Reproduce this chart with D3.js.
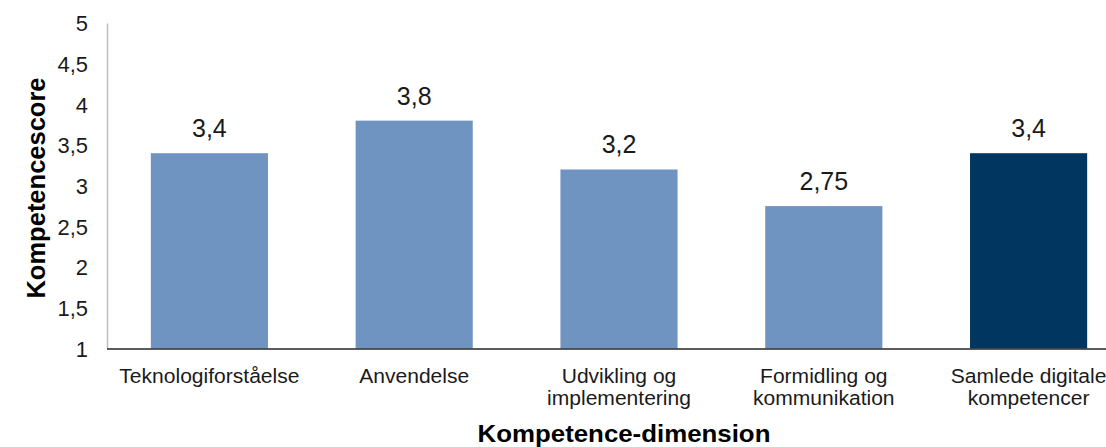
<!DOCTYPE html>
<html>
<head>
<meta charset="utf-8">
<script src="https://cdn.jsdelivr.net/npm/d3@7"></script>
<style>
  html, body { margin: 0; padding: 0; background: #fff; }
  svg { display: block; }
  text { font-family: "Liberation Sans", Arial, Helvetica, sans-serif; fill: #1a1a1a; }
</style>
</head>
<body>
<svg id="chart" width="1106" height="447"></svg>
<script>
// Competence dimensions and their average scores
const categories = [
  "Teknologiforståelse",
  "Anvendelse",
  "Udvikling og\nimplementering",
  "Formidling og\nkommunikation",
  "Samlede digitale\nkompetencer"
];
const scores = [3.4, 3.8, 3.2, 2.75, 3.4];
const barColors = ["#7094c1", "#7094c1", "#7094c1", "#7094c1", "#00365f"];
const yTicks = [1, 1.5, 2, 2.5, 3, 3.5, 4, 4.5, 5];
const xTitle = "Kompetence-dimension";
const yTitle = "Kompetencescore";

const svg = d3.select("#chart");
const width = 1106;

// Danish number formatting (decimal comma)
const locale = d3.formatLocale({ decimal: ",", thousands: ".", grouping: [3], currency: ["", " kr."] });
const fmt = locale.format("~g");

const plot = { left: 107, top: 23, bottom: 348.5 };
const step = 204.8;

const x = d3.scaleBand()
  .domain(d3.range(categories.length))
  .range([plot.left, plot.left + step * categories.length])
  .paddingInner(0.428)
  .paddingOuter(0.214);

const y = d3.scaleLinear().domain([1, 5]).range([plot.bottom, plot.top]);

const sx = 1.08; // slightly wide letterforms

// Bars
svg.append("g").selectAll("rect")
  .data(scores)
  .join("rect")
  .attr("x", (d, i) => x(i))
  .attr("width", x.bandwidth())
  .attr("y", d => y(d))
  .attr("height", d => y(1) - y(d))
  .attr("fill", (d, i) => barColors[i]);

// Value labels
svg.append("g").selectAll("text")
  .data(scores)
  .join("text")
  .attr("text-anchor", "middle")
  .attr("transform", (d, i) => `translate(${x(i) + x.bandwidth() / 2},${y(d) - 16})`)
  .style("font-size", "25px")
  .text(d => fmt(d));

// Y axis (line only, labels without tick marks)
const yAxis = d3.axisLeft(y).tickValues(yTicks).tickSize(0).tickPadding(0).tickFormat(fmt);
const gy = svg.append("g").attr("transform", `translate(${plot.left},0)`).call(yAxis);
gy.select(".domain").attr("stroke", "#bdbdbd").attr("stroke-width", 1.5);
gy.selectAll(".tick text")
  .attr("x", 0)
  .attr("dy", "0.36em")
  .attr("font-family", null)
  .attr("transform", "translate(-19,0) scale(1.02,1)")
  .style("font-size", "21.5px")
  .style("fill", "#1a1a1a");

// X axis baseline
const xAxis = d3.axisBottom(x).tickSize(0).tickFormat("");
const gx = svg.append("g").attr("transform", `translate(0,${plot.bottom})`).call(xAxis);
gx.select(".domain").attr("d", `M${plot.left},0.5H${width}`).attr("stroke", "#262626").attr("stroke-width", 1.5);
gx.selectAll(".tick text").remove();

// Category labels
const catG = svg.append("g");
categories.forEach((c, i) => {
  const t = catG.append("text")
    .attr("text-anchor", "middle")
    .attr("transform", `translate(${x(i) + x.bandwidth() / 2},383) scale(${sx},1)`)
    .style("font-size", "19.5px");
  c.split("\n").forEach((line, k) => {
    t.append("tspan").attr("x", 0).attr("y", k * 22.5).text(line);
  });
});

// Axis titles
svg.append("text")
  .attr("text-anchor", "middle")
  .attr("transform", `translate(624,441.5) scale(1.1,1)`)
  .style("font-size", "23.5px")
  .style("font-weight", "bold")
  .style("fill", "#000")
  .text(xTitle);

svg.append("text")
  .attr("text-anchor", "middle")
  .attr("transform", `translate(45,188) rotate(-90)`)
  .style("font-size", "25.5px")
  .style("font-weight", "bold")
  .style("fill", "#000")
  .text(yTitle);
</script>
</body>
</html>
